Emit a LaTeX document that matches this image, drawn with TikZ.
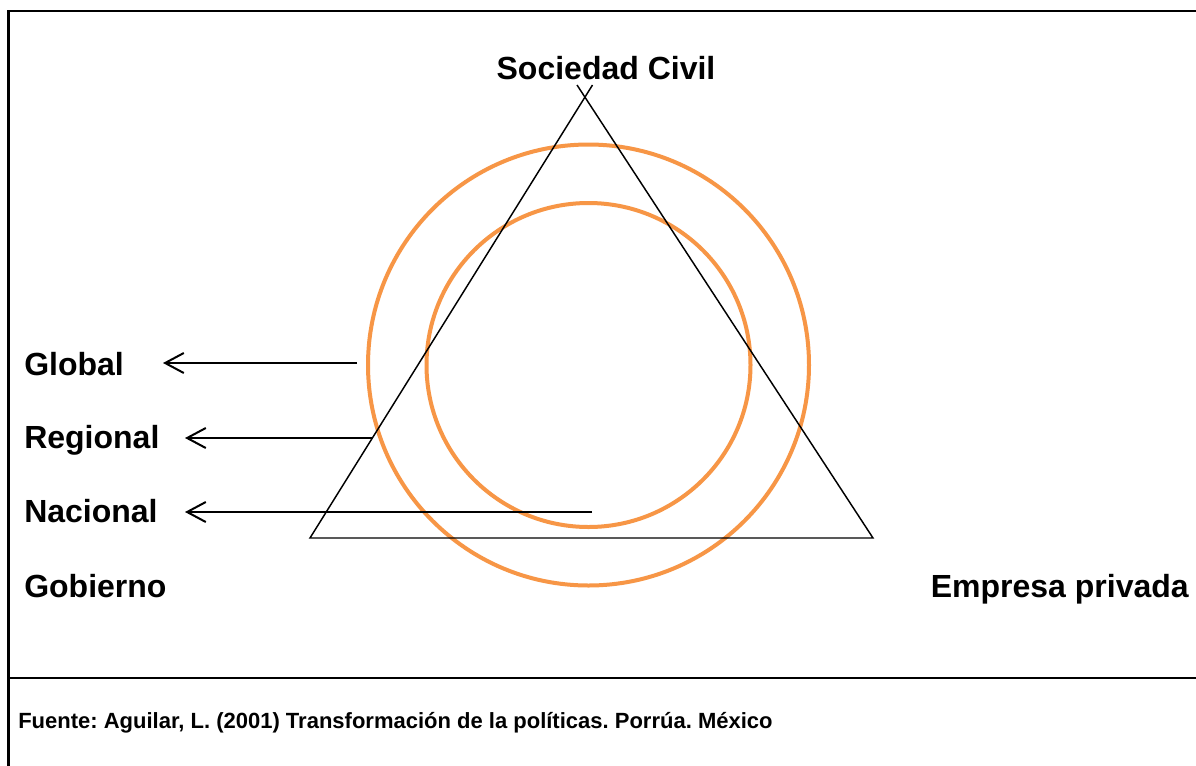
\documentclass[tikz,border=0pt]{standalone}
\usepackage{fontspec}
\setmainfont{Liberation Sans}
\usetikzlibrary{arrows.meta}
\definecolor{ringorange}{RGB}{247,150,70}
\tikzset{
  lbl/.style={font=\fontsize{24}{28}\selectfont\bfseries, inner sep=0pt},
  src/.style={font=\fontsize{16.5}{19}\selectfont\bfseries\frenchspacing, inner sep=0pt},
  frameline/.style={line width=2pt},
  ring/.style={draw=ringorange, line width=3pt},
  tri/.style={line width=1.1pt},
  levelarrow/.style={line width=1.5pt, -{Straight Barb[length=14pt,width=15pt,line width=1.5pt]}}
}
\begin{document}
\begin{tikzpicture}[x=0.75pt,y=-0.75pt]
\useasboundingbox (0,0) rectangle (1196,765);
\fill[white] (0,0) rectangle (1196,765);
% frame
\draw[frameline] (8.5,766) -- (8.5,11) -- (1197,11);
\draw[frameline] (8.5,678) -- (1197,678);
% circles
\draw[ring] (588.5,365) circle[radius=220.5];
\draw[ring] (588.5,365) circle[radius=162];
% triangle (sides cross slightly at apex)
\coordinate (bl) at (310,538);
\coordinate (br) at (873,538);
\coordinate (tl) at (592.5,85);
\coordinate (tr) at (577,85);
\draw[tri] (tl) -- (bl) -- (br) -- (tr);
% labels
\node[lbl, anchor=base] (soc) at (606,79) {Sociedad Civil};
\node[lbl, anchor=base west] (glob) at (24,375) {Global};
\node[lbl, anchor=base west] (reg) at (24,448) {Regional};
\node[lbl, anchor=base west] (nac) at (24,522) {Nacional};
\node[lbl, anchor=base west] (gob) at (24,597) {Gobierno};
\node[lbl, anchor=base east] (emp) at (1189,597) {Empresa privada};
\node[src, anchor=base west] (fuente) at (18,728) {Fuente: Aguilar, L. (2001) Transformación de la políticas. Porrúa. México};
% arrows
\coordinate (gs) at (357,363);
\coordinate (ge) at (163,363);
\coordinate (rs) at (372,438);
\coordinate (re) at (185,438);
\coordinate (ns) at (592,512);
\coordinate (ne) at (185,512);
\draw[levelarrow] (gs) -- (ge);
\draw[levelarrow] (rs) -- (re);
\draw[levelarrow] (ns) -- (ne);
\end{tikzpicture}
\end{document}
